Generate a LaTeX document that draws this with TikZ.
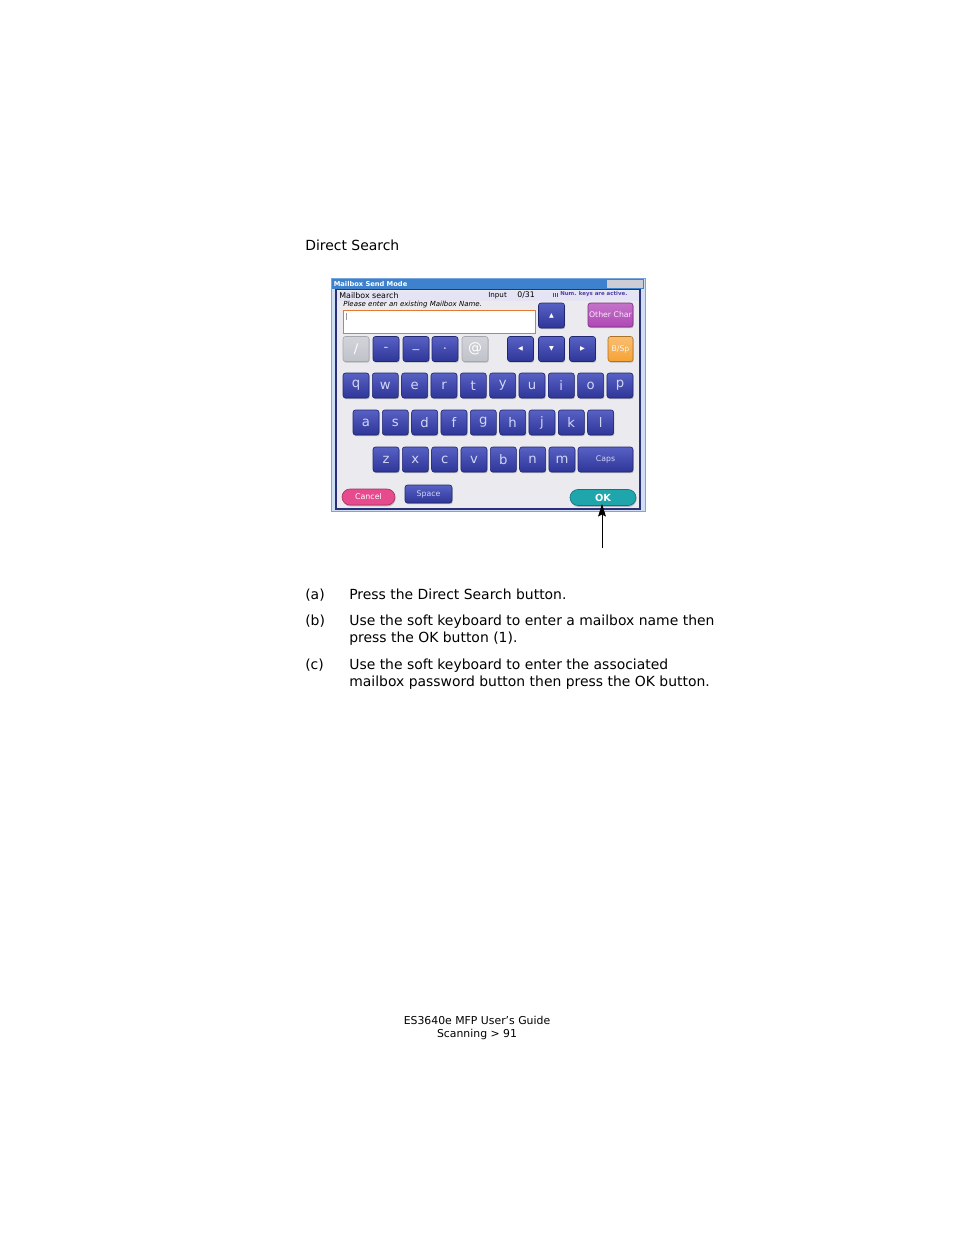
\documentclass[tikz,border=0pt]{standalone}
\usepackage{fontspec}
\setmainfont{DejaVu Sans}
\usetikzlibrary{arrows.meta, shadows}
\newlength\pu
\setlength\pu{0.64392pt}

\definecolor{keytop}{RGB}{88,98,196}
\definecolor{keybot}{RGB}{46,54,152}
\definecolor{keyedge}{RGB}{32,38,112}
\definecolor{keytext}{RGB}{210,214,246}
\definecolor{panelgrey}{RGB}{235,235,239}
\definecolor{headlav}{RGB}{228,228,244}
\definecolor{barblue}{RGB}{62,130,206}
\definecolor{framenavy}{RGB}{44,48,120}
\definecolor{frameblue}{RGB}{120,165,220}
\definecolor{greykey}{RGB}{192,194,202}
\definecolor{greyedge}{RGB}{165,166,176}
\definecolor{otherpurple}{RGB}{176,70,182}
\definecolor{bsporange}{RGB}{246,162,52}
\definecolor{cancelpink}{RGB}{232,74,142}
\definecolor{okteal}{RGB}{30,166,172}
\definecolor{fieldorange}{RGB}{230,120,50}
\definecolor{noteviolet}{RGB}{84,64,168}

\tikzset{
  key/.style={draw=keyedge, top color=keytop, bottom color=keybot,
    rounded corners=2.5\pu, minimum width=26\pu, minimum height=25\pu,
    inner sep=0pt, text=keytext, font=\fontsize{8.5}{8.5}\selectfont,
    drop shadow={shadow xshift=0.7\pu, shadow yshift=-1.2\pu, opacity=0.45}},
  greyk/.style={key, draw=greyedge, top color=greykey!70!white, bottom color=greykey, text=white},
  smallk/.style={font=\fontsize{5}{5}\selectfont},
  arrowk/.style={font=\fontsize{4}{4}\selectfont, text=white},
  pill/.style={rounded corners=8\pu, minimum height=16\pu, inner sep=0pt,
    text=white, font=\fontsize{5.1}{5.1}\selectfont,
    drop shadow={shadow xshift=0.6\pu, shadow yshift=-1.4\pu, opacity=0.5}},
  body/.style={anchor=base west, inner sep=0pt, font=\fontsize{8.97}{11}\selectfont},
  foot/.style={anchor=base, inner sep=0pt, font=\fontsize{7}{8}\selectfont},
  screentext/.style={anchor=west, inner sep=0pt}
}

\begin{document}
\begin{tikzpicture}[x=\pu, y=-\pu]
    \useasboundingbox (0,0) rectangle (954,1235);

    \node[body] (heading) at (305,250.7) {Direct Search};

    % screen frame
    \draw[frameblue, fill=frameblue!35!white, line width=0.8\pu] (331,278) rectangle (645,511);
    \fill[barblue] (332,279) rectangle (644,289);
    \fill[greykey!80!white] (607,280) rectangle (643,288);
    \node[screentext, text=white, font=\bfseries\fontsize{4.3}{4.3}\selectfont] (mode) at (333.5,284) {Mailbox Send Mode};
    \draw[framenavy, fill=panelgrey, line width=1.4\pu] (336,289.5) rectangle (640,509);
    \fill[headlav] (337,290.5) rectangle (639,300.5);
    \node[screentext, font=\fontsize{5.1}{5.1}\selectfont] (search) at (339,295.5) {Mailbox search};
    \node[screentext, font=\fontsize{4.6}{4.6}\selectfont] (input) at (488,295.5) {Input};
    \node[screentext, font=\fontsize{5}{5}\selectfont] (count) at (517,295.3) {0/31};
    \foreach \d in {0,1.8,3.6}
        \fill[noteviolet] (553+\d,292.5) rectangle ++(1,4.5);
    \node[screentext, text=noteviolet, font=\bfseries\fontsize{3.5}{3.5}\selectfont] (note) at (560,294.5) {Num. keys are active.};
    \node[screentext, font=\itshape\fontsize{4.5}{4.5}\selectfont] (prompt) at (343,305) {Please enter an existing Mailbox Name.};

    % name field
    \node[draw=fieldorange, fill=white, line width=0.8\pu, minimum width=192\pu, minimum height=23\pu, inner sep=0pt] (namefield) at (439,321.5) {};
    \draw[black!40, line width=0.5\pu] (346,313) -- (346,320);

    % top keys
    \node[key, arrowk] (up) at (551.5,315.5) {▲};
    \node[key, smallk, minimum width=45\pu, minimum height=24\pu, draw=otherpurple!70!black, top color=otherpurple!75!white, bottom color=otherpurple, text=white!90!otherpurple] (otherchar) at (610.5,315) {Other Char};
    \node[greyk] (slash) at (356,349) {/};
    \node[key] (dash) at (386,349) {-};
    \node[key] (under) at (416,349) {\_};
    \node[key] (dot) at (445,349) {.};
    \node[greyk, font=\fontsize{9}{9}\selectfont] (at) at (475,349) {@};
    \node[key, arrowk] (left) at (520.5,349) {◀};
    \node[key, arrowk] (down) at (551.5,349) {▼};
    \node[key, arrowk] (right) at (582.5,349) {▶};
    \node[key, smallk, minimum width=25\pu, draw=bsporange!70!black, top color=bsporange!70!white, bottom color=bsporange, text=white!90!bsporange] (bsp) at (620.5,349) {B/Sp};

    % letter rows
    \foreach \k [count=\i from 0] in {q,w,e,r,t,y,u,i,o,p}
        \node[key] (key \k) at ({356+29.33*\i},385.5) {\k};
    \foreach \k [count=\i from 0] in {a,s,d,f,g,h,j,k,l}
        \node[key] (key \k) at ({366+29.33*\i},422.5) {\k};
    \foreach \k [count=\i from 0] in {z,x,c,v,b,n,m}
        \node[key] (key \k) at ({386+29.33*\i},459.5) {\k};
    \node[key, smallk, minimum width=55\pu] (caps) at (605.5,459.5) {Caps};

    % bottom buttons
    \node[pill, minimum width=53\pu, fill=cancelpink, draw=cancelpink!70!black] (cancel) at (368.5,497) {Cancel};
    \node[key, smallk, minimum width=47\pu, minimum height=18\pu] (space) at (428.5,494) {Space};
    \node[pill, minimum width=66\pu, fill=okteal, draw=okteal!70!black, font=\bfseries\fontsize{6.3}{6.3}\selectfont] (ok) at (603,497.5) {OK};

    % pointer to OK
    \coordinate (pointer) at (602,548);
    \coordinate (oktip) at (602,504);
    \draw[line width=0.8\pu, -{Stealth[length=8pt, width=5pt, inset=1.2pt]}] (pointer) -- (oktip);

    % steps
    \node[body] (tag a) at (305,599.5) {(a)};
    \node[body] (step a) at (349,599.5) {Press the Direct Search button.};
    \node[body] (tag b) at (305,625.5) {(b)};
    \node[body] (step b) at (349,625.5) {Use the soft keyboard to enter a mailbox name then};
    \node[body] (step b2) at (349,642.5) {press the OK button (1).};
    \node[body] (tag c) at (305,669.5) {(c)};
    \node[body] (step c) at (349,669.5) {Use the soft keyboard to enter the associated};
    \node[body] (step c2) at (349,686.5) {mailbox password button then press the OK button.};

    % footer
    \node[foot] (guide) at (477,1024) {ES3640e MFP User’s Guide};
    \node[foot] (page) at (477,1037) {Scanning > 91};
\end{tikzpicture}
\end{document}
